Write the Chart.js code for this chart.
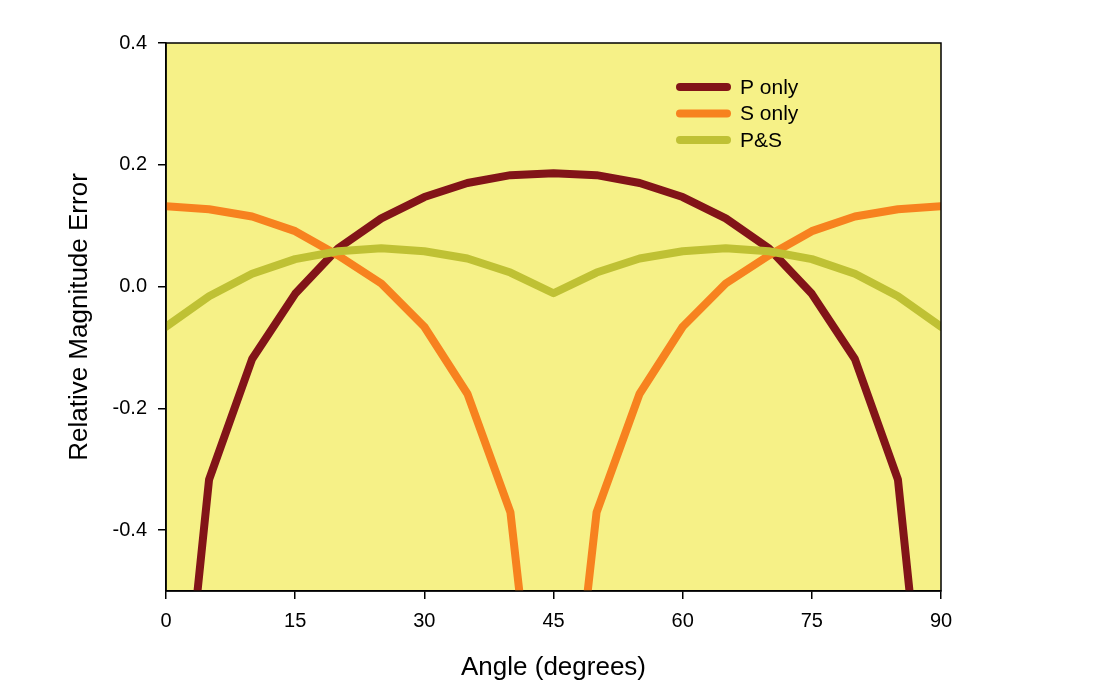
<!DOCTYPE html>
<html>
<head>
<meta charset="utf-8">
<script src="https://cdn.jsdelivr.net/npm/chart.js@4/dist/chart.umd.min.js"></script>
<style>
  html, body { margin: 0; padding: 0; background: #fff; }
  #wrap { width: 1100px; height: 700px; }
</style>
</head>
<body>
<div id="wrap"><canvas id="chart"></canvas></div>
<script>
// angles every 5 degrees
const angles = [0, 5, 10, 15, 20, 25, 30, 35, 40, 45, 50, 55, 60, 65, 70, 75, 80, 85, 90];
const pOnly = [-1.0, -0.317, -0.119, -0.012, 0.063, 0.112, 0.147, 0.170, 0.183, 0.186, 0.183, 0.170, 0.147, 0.112, 0.063, -0.012, -0.119, -0.317, -1.0];
const sOnly = [0.132, 0.127, 0.115, 0.091, 0.051, 0.005, -0.066, -0.176, -0.371, -1.0, -0.371, -0.176, -0.066, 0.005, 0.051, 0.091, 0.115, 0.127, 0.132];
const pAndS = [-0.066, -0.016, 0.021, 0.045, 0.058, 0.063, 0.058, 0.046, 0.023, -0.011, 0.023, 0.046, 0.058, 0.063, 0.058, 0.045, 0.021, -0.016, -0.066];
const xTicks = [0, 15, 30, 45, 60, 75, 90];
const yTicks = [-0.4, -0.2, 0.0, 0.2, 0.4];

const font = '"Liberation Sans", Arial, sans-serif';

function pts(vals) {
  return angles.map((a, i) => ({ x: a, y: vals[i] }));
}

function line(label, vals, color, order) {
  return {
    label: label,
    data: pts(vals),
    borderColor: color,
    backgroundColor: color,
    borderWidth: 8,
    pointRadius: 0,
    borderCapStyle: 'round',
    borderJoinStyle: 'round',
    tension: 0,
    order: order
  };
}

// yellow plot area + black frame + legend inside
const plotBox = {
  id: 'plotBox',
  beforeDraw(chart) {
    const { ctx, chartArea: a } = chart;
    ctx.save();
    ctx.fillStyle = '#f6f187';
    ctx.fillRect(a.left, a.top, a.right - a.left, a.bottom - a.top);
    ctx.restore();
  },
  afterDraw(chart) {
    const { ctx, chartArea: a } = chart;
    ctx.save();
    ctx.strokeStyle = '#000';
    ctx.lineWidth = 1.5;
    ctx.strokeRect(a.left, a.top, a.right - a.left, a.bottom - a.top);

    ctx.font = '21px ' + font;
    ctx.textBaseline = 'middle';
    chart.data.datasets.forEach((ds, i) => {
      const y = 87 + i * 26.5;
      ctx.strokeStyle = ds.borderColor;
      ctx.lineWidth = 8;
      ctx.lineCap = 'round';
      ctx.beginPath();
      ctx.moveTo(680, y);
      ctx.lineTo(727, y);
      ctx.stroke();
      ctx.fillStyle = '#000';
      ctx.fillText(ds.label, 740, y + 1);
    });
    ctx.restore();
  }
};

new Chart(document.getElementById('chart'), {
  type: 'line',
  data: {
    datasets: [
      line('P only', pOnly, '#821418', 3),
      line('S only', sOnly, '#f7821f', 2),
      line('P&S', pAndS, '#bfc134', 1)
    ]
  },
  options: {
    responsive: true,
    maintainAspectRatio: false,
    animation: false,
    layout: { padding: { left: 0, right: 159, top: 43, bottom: 0 } },
    plugins: { legend: { display: false }, tooltip: { enabled: false } },
    scales: {
      x: {
        type: 'linear',
        min: 0,
        max: 90,
        afterBuildTicks: (s) => { s.ticks = xTicks.map(v => ({ value: v })); },
        afterFit: (s) => { s.height = 109; },
        grid: { drawOnChartArea: false, tickLength: 8, color: '#000', lineWidth: 1.5 },
        border: { color: '#000', width: 1.5 },
        ticks: { color: '#000', font: { family: font, size: 20 }, padding: 10, maxRotation: 0 },
        title: { display: true, text: 'Angle (degrees)', color: '#000', font: { family: font, size: 26 }, padding: { top: 4, bottom: 17 } }
      },
      y: {
        min: -0.5,
        max: 0.4,
        afterBuildTicks: (s) => { s.ticks = yTicks.map(v => ({ value: v })); },
        afterFit: (s) => { s.width = 166; },
        grid: { drawOnChartArea: false, tickLength: 8, color: '#000', lineWidth: 1.5 },
        border: { color: '#000', width: 1.5 },
        ticks: {
          color: '#000',
          font: { family: font, size: 20 },
          padding: 11,
          callback: (v) => v.toFixed(1)
        },
        title: { display: true, text: 'Relative Magnitude Error', color: '#000', font: { family: font, size: 26 }, padding: { top: 64, bottom: 0 } }
      }
    }
  },
  plugins: [plotBox]
});
</script>
</body>
</html>
